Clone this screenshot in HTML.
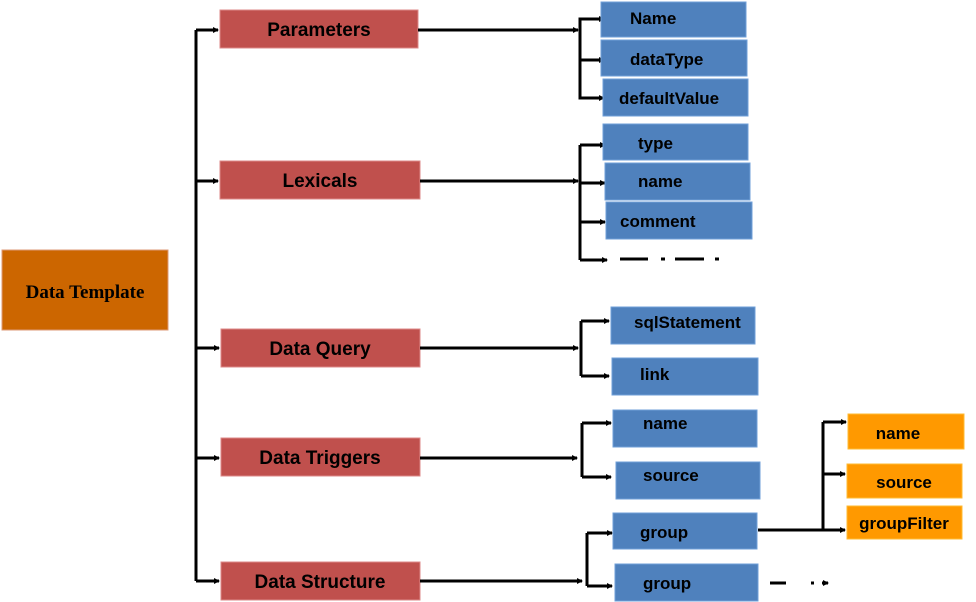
<!DOCTYPE html>
<html><head><meta charset="utf-8"><style>
html,body{margin:0;padding:0;background:#fff;}
svg{display:block;}
text{font-family:"Liberation Sans",Arial,sans-serif;font-weight:bold;font-size:17px;fill:#000;}
.b{fill:#4f81bd;stroke:#6f9fd8;stroke-width:1;}
.r{fill:#c0504d;stroke:#d88;stroke-width:1;}
.o{fill:#ff9900;stroke:#fb3;stroke-width:1;}
.l{stroke:#000;stroke-width:3;fill:none;}
</style></head><body>
<svg width="976" height="602" viewBox="0 0 976 602" xmlns="http://www.w3.org/2000/svg">
<defs><marker id="a" markerWidth="6" markerHeight="6" refX="5" refY="3" orient="auto" markerUnits="userSpaceOnUse"><path d="M0,0 L6,3 L0,6z" fill="#000"/></marker></defs>
<rect x="2" y="250" width="166" height="80" fill="#cc6600" stroke="#d97"/>
<text x="85" y="298" text-anchor="middle" style="font-family:'Liberation Serif',serif;font-size:19px">Data Template</text>
<!-- trunk -->
<path class="l" d="M196 30 V581"/>
<path class="l" d="M196 30 H218" marker-end="url(#a)"/>
<path class="l" d="M196 181 H218" marker-end="url(#a)"/>
<path class="l" d="M196 348 H219" marker-end="url(#a)"/>
<path class="l" d="M196 458 H219" marker-end="url(#a)"/>
<path class="l" d="M196 581 H219" marker-end="url(#a)"/>
<!-- red boxes -->
<rect class="r" x="220" y="10" width="198" height="38"/><text x="319" y="36" text-anchor="middle" style="font-size:19px">Parameters</text>
<rect class="r" x="220" y="161" width="200" height="38"/><text x="320" y="187" text-anchor="middle" style="font-size:19px">Lexicals</text>
<rect class="r" x="221" y="329" width="199" height="38"/><text x="320" y="355" text-anchor="middle" style="font-size:19px">Data Query</text>
<rect class="r" x="221" y="438" width="199" height="38"/><text x="320" y="464" text-anchor="middle" style="font-size:19px">Data Triggers</text>
<rect class="r" x="221" y="562" width="199" height="38"/><text x="320" y="588" text-anchor="middle" style="font-size:19px">Data Structure</text>
<!-- params -->
<path class="l" d="M418 30 H578" marker-end="url(#a)"/>
<path class="l" d="M600 19 H580 V98 H600"/>
<path class="l" d="M580 19 H604" marker-end="url(#a)"/><path class="l" d="M580 60 H604" marker-end="url(#a)"/><path class="l" d="M580 98 H604" marker-end="url(#a)"/>
<rect class="b" x="601" y="2" width="145" height="35"/><text x="630" y="24">Name</text>
<rect class="b" x="601" y="40" width="146" height="36"/><text x="630" y="65">dataType</text>
<rect class="b" x="603" y="79" width="145" height="37"/><text x="619" y="104">defaultValue</text>
<!-- lexicals -->
<path class="l" d="M420 181 H578" marker-end="url(#a)"/>
<path class="l" d="M580 145 V260"/>
<path class="l" d="M580 145 H605" marker-end="url(#a)"/><path class="l" d="M580 183 H605" marker-end="url(#a)"/><path class="l" d="M580 222 H605" marker-end="url(#a)"/><path class="l" d="M580 260 H607" marker-end="url(#a)"/>
<rect class="b" x="603" y="124" width="145" height="36"/><text x="638" y="149">type</text>
<rect class="b" x="605" y="163" width="145" height="37"/><text x="638" y="187">name</text>
<rect class="b" x="606" y="202" width="146" height="37"/><text x="620" y="227">comment</text>
<path d="M620 259 H648 M661 259 H665 M675 259 H704 M715 259 H719" stroke="#000" stroke-width="3"/>
<!-- data query -->
<path class="l" d="M420 348 H578" marker-end="url(#a)"/>
<path class="l" d="M581 321 V376"/>
<path class="l" d="M581 321 H609" marker-end="url(#a)"/><path class="l" d="M581 376 H609" marker-end="url(#a)"/>
<rect class="b" x="611" y="307" width="144" height="37"/><text x="634" y="328">sqlStatement</text>
<rect class="b" x="612" y="358" width="146" height="37"/><text x="640" y="380">link</text>
<!-- triggers -->
<path class="l" d="M420 458 H577" marker-end="url(#a)"/>
<path class="l" d="M582 423 V477"/>
<path class="l" d="M582 423 H611" marker-end="url(#a)"/><path class="l" d="M582 477 H611" marker-end="url(#a)"/>
<rect class="b" x="613" y="410" width="144" height="37"/><text x="643" y="429">name</text>
<rect class="b" x="616" y="462" width="144" height="37"/><text x="643" y="481">source</text>
<!-- structure -->
<path class="l" d="M420 581 H582" marker-end="url(#a)"/>
<path class="l" d="M587 533 V586"/>
<path class="l" d="M587 533 H612" marker-end="url(#a)"/><path class="l" d="M587 586 H612" marker-end="url(#a)"/>
<rect class="b" x="613" y="513" width="144" height="36"/><text x="640" y="538">group</text>
<rect class="b" x="615" y="564" width="143" height="37"/><text x="643" y="589">group</text>
<path d="M770 583 H786 M811 583 H814" stroke="#000" stroke-width="3"/>
<path class="l" d="M822 583 H828" marker-end="url(#a)"/>
<!-- group -> orange -->
<path class="l" d="M758 530 H845" marker-end="url(#a)"/>
<path class="l" d="M823 422 V530"/>
<path class="l" d="M823 422 H846" marker-end="url(#a)"/><path class="l" d="M823 474 H845" marker-end="url(#a)"/>
<rect class="o" x="848" y="414" width="116" height="35"/><text x="898" y="439" text-anchor="middle">name</text>
<rect class="o" x="847" y="464" width="115" height="34"/><text x="904" y="488" text-anchor="middle">source</text>
<rect class="o" x="847" y="506" width="115" height="33"/><text x="904" y="529" text-anchor="middle">groupFilter</text>
</svg>
</body></html>
